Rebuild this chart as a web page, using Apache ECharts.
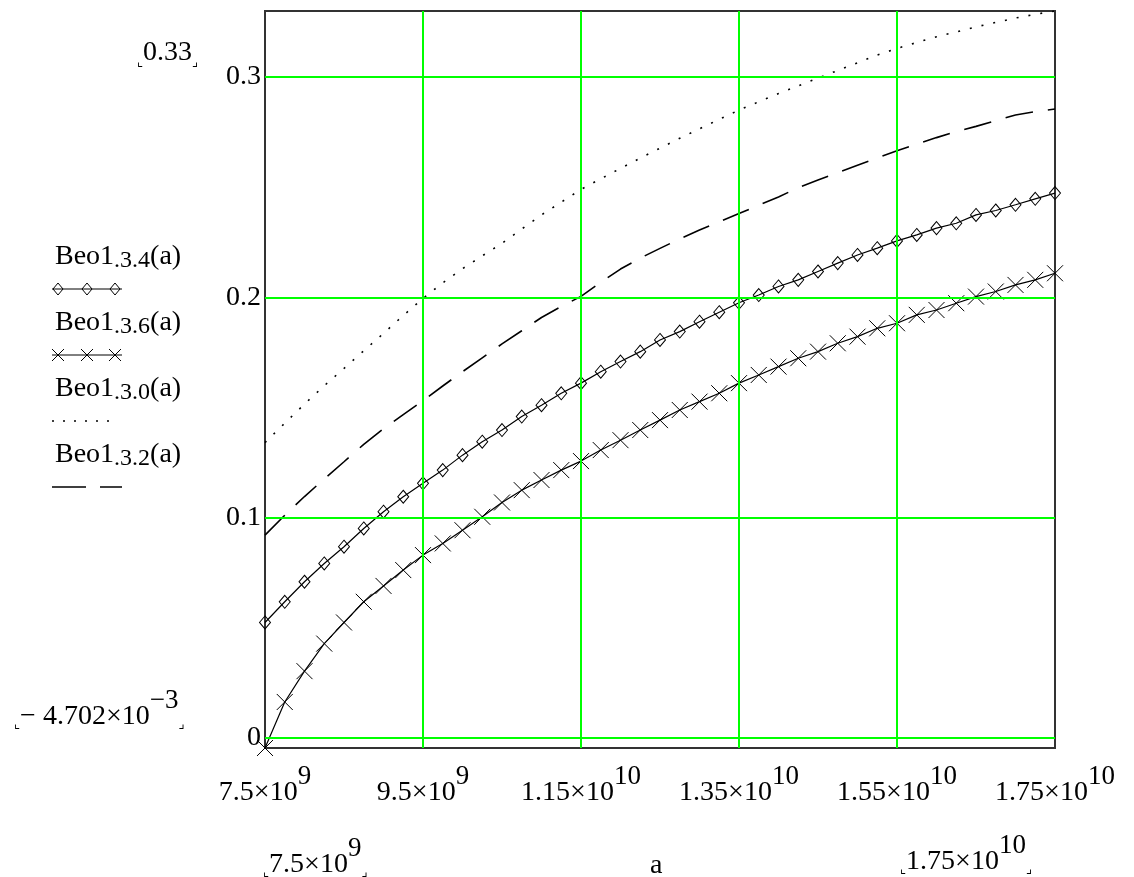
<!DOCTYPE html>
<html>
<head>
<meta charset="utf-8">
<script src="https://cdn.jsdelivr.net/npm/echarts@6/dist/echarts.min.js"></script>
<style>
  html, body { margin: 0; padding: 0; background: #fff; }
  #chart { width: 1134px; height: 877px; }
</style>
</head>
<body>
<div id="chart"></div>
<script>
// a, in units of 1e9
const aValues = [7.5, 7.75, 8, 8.25, 8.5, 8.75, 9, 9.25, 9.5, 9.75, 10, 10.25, 10.5, 10.75,
  11, 11.25, 11.5, 11.75, 12, 12.25, 12.5, 12.75, 13, 13.25, 13.5, 13.75, 14, 14.25,
  14.5, 14.75, 15, 15.25, 15.5, 15.75, 16, 16.25, 16.5, 16.75, 17, 17.25, 17.5];

const beo34 = [0.0523, 0.0617, 0.0708, 0.0791, 0.0867, 0.0950, 0.1026, 0.1094, 0.1155,
  0.1215, 0.1283, 0.1344, 0.1397, 0.1458, 0.1510, 0.1564, 0.1610,
  0.1662, 0.1708, 0.1753, 0.1806, 0.1844, 0.1889, 0.1932, 0.1975,
  0.2010, 0.2049, 0.2079, 0.2117, 0.2155, 0.2192, 0.2223, 0.2256,
  0.2283, 0.2314, 0.2336, 0.2374, 0.2394, 0.2420, 0.2447, 0.2473];

const beo36 = [-0.0047, 0.0162, 0.0302, 0.0427, 0.0523, 0.0617, 0.0689, 0.0761, 0.0829,
  0.0882, 0.0942, 0.1003, 0.1068, 0.1124, 0.1170, 0.1215, 0.1256,
  0.1306, 0.1351, 0.1397, 0.1442, 0.1488, 0.1526, 0.1564, 0.1610,
  0.1647, 0.1685, 0.1723, 0.1753, 0.1791, 0.1821, 0.1859, 0.1882,
  0.1920, 0.1942, 0.1973, 0.2003, 0.2026, 0.2056, 0.2079, 0.2109];

const beo30 = [0.1340, 0.1428, 0.1515, 0.1598, 0.1677, 0.1757, 0.1836, 0.1917, 0.1995,
  0.2065, 0.2130, 0.2188, 0.2245, 0.2310, 0.2374, 0.2432, 0.2490,
  0.2538, 0.2585, 0.2632, 0.2677, 0.2722, 0.2765, 0.2808, 0.2850,
  0.2888, 0.2925, 0.2960, 0.2995, 0.3030, 0.3065, 0.3100, 0.3130,
  0.3157, 0.3183, 0.3205, 0.3228, 0.3248, 0.3268, 0.3285, 0.3300];

const beo32 = [0.0920, 0.1010, 0.1095, 0.1175, 0.1253, 0.1332, 0.1403, 0.1467, 0.1530,
  0.1597, 0.1662, 0.1725, 0.1788, 0.1848, 0.1908, 0.1958, 0.2004,
  0.2068, 0.2128, 0.2178, 0.2222, 0.2265, 0.2305, 0.2343, 0.2380,
  0.2418, 0.2455, 0.2498, 0.2532, 0.2566, 0.2600, 0.2633, 0.2665,
  0.2695, 0.2725, 0.2752, 0.2776, 0.2802, 0.2828, 0.2843, 0.2855];

const xTicks = [7.5e9, 9.5e9, 1.15e10, 1.35e10, 1.55e10, 1.75e10];
const yTicks = [0, 0.1, 0.2, 0.3];
const xMin = 7.5e9, xMax = 1.75e10;
const yMin = -4.702e-3, yMax = 0.33;

const serif = '"Liberation Serif", "Times New Roman", serif';
const corner = '"DejaVu Sans", sans-serif';

// superscript layout: main text sits low in a tall line, exponent sits at the top
const richSup = {
  m: { fontFamily: serif, fontSize: 28, color: '#000', lineHeight: 44, verticalAlign: 'bottom' },
  s: { fontFamily: serif, fontSize: 27, color: '#000', lineHeight: 26, verticalAlign: 'top' },
  k: { fontFamily: corner, fontSize: 13, color: '#000', lineHeight: 14, verticalAlign: 'bottom' }
};
const richSub = {
  m: { fontFamily: serif, fontSize: 28, color: '#000', lineHeight: 30, verticalAlign: 'top' },
  b: { fontFamily: serif, fontSize: 24, color: '#000', lineHeight: 16, verticalAlign: 'bottom' },
  k: { fontFamily: corner, fontSize: 13, color: '#000', lineHeight: 14, verticalAlign: 'bottom' }
};

function sci(v) {
  const e = Math.floor(Math.log10(v) + 1e-9);
  const m = +(v / Math.pow(10, e)).toPrecision(3);
  return '{m|' + m + '×10}{s|' + e + '}';
}
function pairs(ys) {
  return aValues.map((a, i) => [a * 1e9, ys[i]]);
}

const gridLines = yTicks.map(v => ({ yAxis: v }))
  .concat(xTicks.slice(1, -1).map(v => ({ xAxis: v })));

// legend drawn by hand: name on one line, line sample below it
const legendRows = [
  { sub: '.3.4', y: 243, kind: 'diamond' },
  { sub: '.3.6', y: 309, kind: 'cross' },
  { sub: '.3.0', y: 375, kind: 'dot' },
  { sub: '.3.2', y: 441, kind: 'dash' }
];
const graphics = [];
legendRows.forEach(r => {
  graphics.push({
    type: 'text', left: 55, top: r.y,
    style: { text: '{m|Beo1}{b|' + r.sub + '}{m|(a)}', rich: richSub }
  });
  const ly = r.y + 46;
  if (r.kind === 'diamond' || r.kind === 'cross') {
    graphics.push({ type: 'line', shape: { x1: 52, y1: ly, x2: 122, y2: ly }, style: { stroke: '#000', lineWidth: 1 } });
    [58, 87, 115].forEach(x => {
      if (r.kind === 'diamond') {
        graphics.push({ type: 'polygon', shape: { points: [[x, ly - 6], [x + 5, ly], [x, ly + 6], [x - 5, ly]] },
          style: { fill: 'rgba(0,0,0,0)', stroke: '#000', lineWidth: 1 } });
      } else {
        graphics.push({ type: 'polyline', shape: { points: [[x - 6, ly - 6], [x + 6, ly + 6]] }, style: { stroke: '#000', lineWidth: 1 } });
        graphics.push({ type: 'polyline', shape: { points: [[x + 6, ly - 6], [x - 6, ly + 6]] }, style: { stroke: '#000', lineWidth: 1 } });
      }
    });
  } else if (r.kind === 'dot') {
    graphics.push({ type: 'line', shape: { x1: 52, y1: ly, x2: 118, y2: ly }, style: { stroke: '#000', lineWidth: 1.5, lineDash: [2, 9] } });
  } else {
    graphics.push({ type: 'line', shape: { x1: 52, y1: ly, x2: 122, y2: ly }, style: { stroke: '#000', lineWidth: 1.5, lineDash: [34, 14] } });
  }
});

// range labels around the plot
graphics.push(
  { type: 'text', left: 137, top: 39, style: { text: '{k|⌞}{m|' + yMax + '}{k|⌟}', rich: richSub } },
  { type: 'text', left: 14, top: 687, style: { text: '{k|⌞}{m|− 4.702×10}{s|−3}{k|⌟}', rich: richSup } },
  { type: 'text', left: 263, top: 835, style: { text: '{k|⌞}' + sci(xMin) + '{k|⌟}', rich: richSup } },
  { type: 'text', left: 900, top: 832, style: { text: '{k|⌞}' + sci(xMax) + '{k|⌟}', rich: richSup } },
  { type: 'text', left: 650, top: 852, style: { text: 'a', font: '28px ' + serif, fill: '#000' } }
);

const chart = echarts.init(document.getElementById('chart'));
chart.setOption({
  animation: false,
  backgroundColor: '#fff',
  grid: { left: 265, right: 79, top: 11, bottom: 129, show: true, borderColor: '#333', borderWidth: 2 },
  xAxis: {
    type: 'value', min: xMin, max: xMax,
    axisLine: { show: false }, axisTick: { show: false }, splitLine: { show: false },
    axisLabel: { customValues: xTicks, margin: 15, formatter: v => sci(v), rich: richSup }
  },
  yAxis: {
    type: 'value', min: yMin, max: yMax,
    axisLine: { show: false }, axisTick: { show: false }, splitLine: { show: false },
    axisLabel: {
      customValues: yTicks, margin: 4, color: '#000',
      fontFamily: serif, fontSize: 28, padding: [6, 0, 0, 0],
      formatter: v => String(+v.toFixed(2))
    }
  },
  graphic: graphics,
  series: [
    {
      type: 'line', data: [], z: 1, silent: true,
      markLine: {
        silent: true, symbol: ['none', 'none'], label: { show: false },
        lineStyle: { color: '#00ff00', width: 2, type: 'solid' },
        emphasis: { disabled: true },
        data: gridLines
      }
    },
    {
      name: 'Beo1.3.4(a)', type: 'line', data: pairs(beo34), z: 3,
      symbol: 'diamond', symbolSize: [11, 13], showAllSymbol: true,
      lineStyle: { color: '#000', width: 1.2 },
      itemStyle: { color: 'rgba(0,0,0,0)', borderColor: '#000', borderWidth: 1 }
    },
    {
      name: 'Beo1.3.6(a)', type: 'line', data: pairs(beo36), z: 3,
      symbol: 'path://M0,0L10,10M10,0L0,10', symbolSize: 16, showAllSymbol: true,
      lineStyle: { color: '#000', width: 1.2 },
      itemStyle: { color: 'rgba(0,0,0,0)', borderColor: '#000', borderWidth: 1 }
    },
    {
      name: 'Beo1.3.0(a)', type: 'line', data: pairs(beo30), z: 3,
      symbol: 'none',
      lineStyle: { color: '#000', width: 1.6, type: [2, 10] }
    },
    {
      name: 'Beo1.3.2(a)', type: 'line', data: pairs(beo32), z: 3,
      symbol: 'none',
      lineStyle: { color: '#000', width: 1.6, type: [28, 15] }
    }
  ]
});
</script>
</body>
</html>
